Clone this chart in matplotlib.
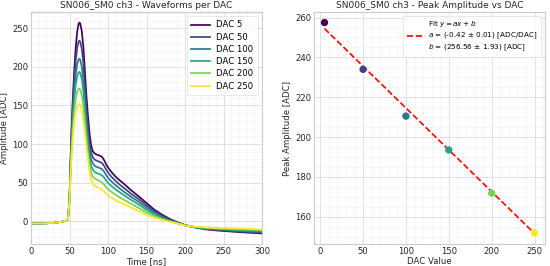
import matplotlib
matplotlib.use("Agg")
import matplotlib.pyplot as plt
from matplotlib.ticker import MultipleLocator, AutoMinorLocator
import numpy as np

# ---------------- data ----------------
time_ns = [0, 10, 20, 30, 40, 45, 47, 48, 50, 52, 54, 56, 58, 60, 62, 63, 64, 66, 68, 70,
           72, 74, 76, 78, 80, 83, 86, 89, 92, 95, 98, 101, 105, 110, 115, 120, 130, 140,
           150, 160, 170, 180, 190, 200, 210, 220, 230, 240, 250, 260, 270, 280, 290, 300]

wf_dac5 = [-3, -3, -2.8, -2.2, -0.8, 0.3, 1.2, 2, 30, 100, 152, 192, 224, 246, 256.5, 257.5,
           256, 246, 226, 194, 162, 136, 114, 99, 91, 87.5, 86, 85, 83.5, 79, 73, 68, 63, 57.5,
           53, 49, 40, 32, 23.5, 15, 8.5, 3, -1.5, -5, -7.5, -9.5, -11, -12, -12.8, -13.5,
           -14.2, -14.8, -15.4, -16]
wf_dac50 = [-3, -3, -2.8, -2.2, -0.8, 0.3, 1.2, 2, 29, 95, 143, 179, 207, 225, 233.2, 234,
            232.5, 223, 205, 176, 146, 122, 103, 90, 83, 79.5, 78, 77, 75.5, 71.5, 66, 61.5,
            57, 52, 47.5, 43.5, 35.5, 28.5, 20.5, 13, 7, 2, -2, -5.3, -7.4, -9.2, -10.5,
            -11.4, -12.1, -12.8, -13.4, -14, -14.5, -15]
wf_dac100 = [-3, -3, -2.8, -2.2, -0.8, 0.3, 1.2, 2, 28, 90, 134, 166, 190, 204, 209.8, 210.5,
             209, 200, 183, 158, 131, 109, 92, 81, 75, 71.5, 70, 69, 67.5, 64, 59, 55, 51,
             46.5, 42.5, 38.5, 31.5, 25, 17.5, 11, 5.5, 1, -2.3, -5.5, -7.3, -8.9, -10,
             -10.8, -11.4, -12, -12.6, -13.1, -13.6, -14]
wf_dac150 = [-3, -3, -2.8, -2.2, -0.8, 0.3, 1.2, 2, 27, 84, 125, 155, 176, 188, 193, 193.5,
             192, 184, 168, 145, 120, 99, 83, 72, 67, 63.5, 62, 61, 59.5, 56.5, 52, 48.5, 45,
             41, 37.5, 34, 27.5, 21.5, 14.5, 9, 4, 0.3, -2.6, -5.6, -7.2, -8.6, -9.5, -10.2,
             -10.7, -11.2, -11.7, -12.1, -12.5, -12.9]
wf_dac200 = [-3, -3, -2.8, -2.2, -0.8, 0.3, 1.2, 2, 26, 78, 115, 141, 158, 168, 171.5, 171.8,
             170.5, 163, 149, 129, 107, 88, 73, 63, 58, 55, 53.5, 52, 50.5, 47.5, 43.5, 40.5,
             37.5, 34, 31, 28, 22.5, 17, 11, 6.5, 2.7, -0.2, -2.8, -5.6, -7.1, -8.2, -9,
             -9.5, -9.9, -10.3, -10.7, -11, -11.4, -11.8]
wf_dac250 = [-3, -3, -2.8, -2.2, -0.8, 0.3, 1.2, 2, 25, 70, 105, 128, 143, 149.5, 151.6, 151.8,
             150.5, 144, 131, 115, 97, 80, 65, 54, 48.5, 45.5, 44, 42.5, 41, 38.5, 35, 32.5,
             30, 27, 24.5, 22.5, 17.5, 13, 8, 4.5, 1.5, -0.8, -3, -5.6, -7, -7.8, -8.3, -8.7,
             -9, -9.3, -9.6, -10, -10.4, -10.8]

dac_values = [5, 50, 100, 150, 200, 250]
dac_labels = ["DAC 5", "DAC 50", "DAC 100", "DAC 150", "DAC 200", "DAC 250"]
peak_amplitudes = [257.5, 234.0, 210.5, 193.5, 171.8, 151.8]
fit_a, fit_a_err = -0.42, 0.01
fit_b, fit_b_err = 256.56, 1.93

waveforms = [wf_dac5, wf_dac50, wf_dac100, wf_dac150, wf_dac200, wf_dac250]

# ---------------- style ----------------
plt.rcParams['font.family'] = ['DejaVu Sans']
FS = 6.1
spine_col = '#cccccc'
txt_col = '#262626'

fig = plt.figure(figsize=(5.5, 2.66), dpi=100)
ax1 = fig.add_axes([31/550, 22/266, 231/550, 232/266])
ax2 = fig.add_axes([314/550, 22/266, 231/550, 232/266])

def style(ax):
    ax.set_facecolor('white')
    for s in ax.spines.values():
        s.set_color(spine_col)
        s.set_linewidth(0.8)
    ax.xaxis.set_minor_locator(AutoMinorLocator())
    ax.yaxis.set_minor_locator(AutoMinorLocator())
    ax.grid(True, which='major', color='#dcdcdc', linewidth=0.6)
    ax.grid(True, which='minor', color='#efefef', linewidth=0.4)
    ax.set_axisbelow(True)
    ax.tick_params(which='both', length=0, labelsize=FS, colors=txt_col, pad=2)

# ---------------- left: waveforms ----------------
style(ax1)
colors = plt.cm.viridis(np.linspace(0, 1, len(dac_values)))
for wf, lab, c in zip(waveforms, dac_labels, colors):
    ax1.plot(time_ns, wf, color=c, lw=1.25, label=lab)
ax1.set_xlim(0, 300)
ax1.xaxis.set_major_locator(MultipleLocator(50))
ax1.yaxis.set_major_locator(MultipleLocator(50))
ax1.set_title("SN006_SM0 ch3 - Waveforms per DAC", fontsize=6.5, color=txt_col, pad=3)
ax1.set_xlabel("Time [ns]", fontsize=FS, color=txt_col, labelpad=1)
ax1.set_ylabel("Amplitude [ADC]", fontsize=FS, color=txt_col, labelpad=2)
leg1 = ax1.legend(loc='upper right', fontsize=FS, frameon=True, handlelength=2.2,
                  borderpad=0.5, labelspacing=0.38, fancybox=True)
leg1.get_frame().set_edgecolor('#dddddd')
leg1.get_frame().set_linewidth(0.6)

# ---------------- right: peak vs DAC ----------------
style(ax2)
dac_arr = np.array(dac_values, dtype=float)
label = ("Fit $y = ax + b$\n"
         f"$a$ = ({fit_a:.2f} ± {fit_a_err:.2f}) [ADC/DAC]\n"
         f"$b$ = ({fit_b:.2f} ± {fit_b_err:.2f}) [ADC]")
ax2.plot(dac_arr, fit_a * dac_arr + fit_b, color='red', ls='--', lw=1.2, label=label, zorder=2)
ax2.scatter(dac_values, peak_amplitudes, c=dac_values, cmap='viridis', s=28, zorder=3,
            edgecolors='none')
ax2.xaxis.set_major_locator(MultipleLocator(50))
ax2.yaxis.set_major_locator(MultipleLocator(20))
ax2.set_title("SN006_SM0 ch3 - Peak Amplitude vs DAC", fontsize=6.5, color=txt_col, pad=3)
ax2.set_xlabel("DAC Value", fontsize=FS, color=txt_col, labelpad=1)
ax2.set_ylabel("Peak Amplitude [ADC]", fontsize=FS, color=txt_col, labelpad=2)
leg2 = ax2.legend(loc='upper right', fontsize=5.2, frameon=True, handlelength=2.2,
                  borderpad=0.5, fancybox=True)
leg2.get_frame().set_edgecolor('#dddddd')
leg2.get_frame().set_linewidth(0.6)

fig.savefig("out.png", dpi=100)
